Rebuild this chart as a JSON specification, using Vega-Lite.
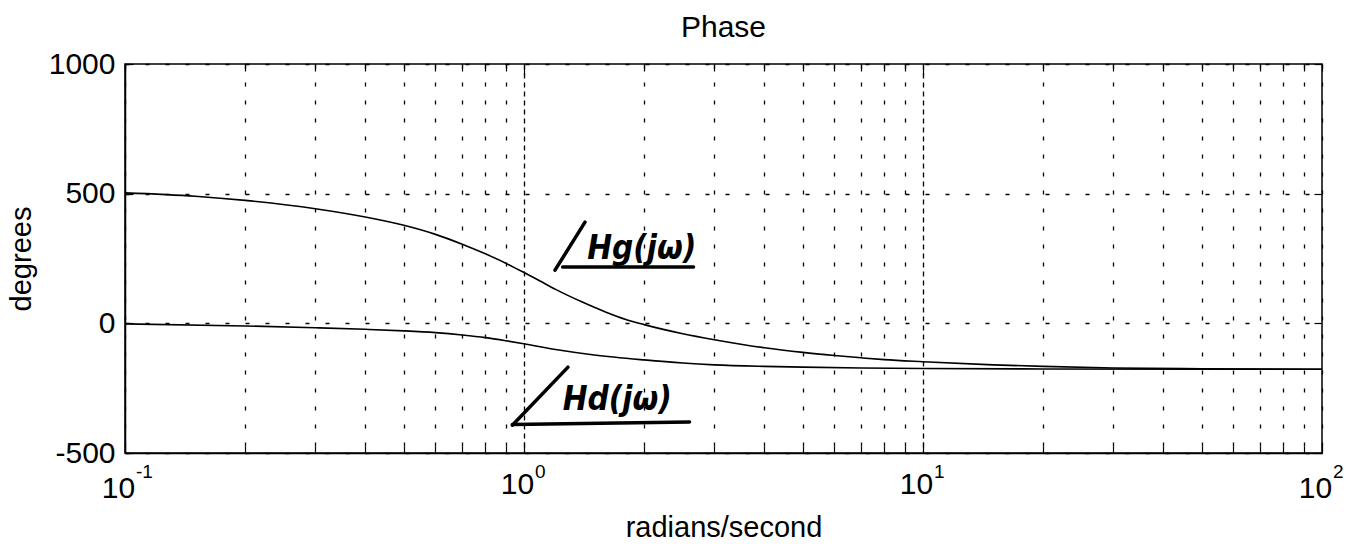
{
  "$schema": "https://vega.github.io/schema/vega-lite/v6.json",
  "width": 1197,
  "height": 389,
  "autosize": {"type": "none"},
  "padding": {"left": 125, "top": 64, "right": 26, "bottom": 91},
  "background": "white",
  "config": {
    "font": "Liberation Sans",
    "view": {"stroke": "black", "strokeWidth": 1.5},
    "axis": {
      "domainColor": "black",
      "domainWidth": 1.5,
      "tickColor": "black",
      "labelColor": "black",
      "titleColor": "black",
      "labelFont": "Liberation Sans",
      "titleFont": "Liberation Sans",
      "labelFontSize": 30,
      "titleFontSize": 29,
      "titleFontWeight": "normal",
      "gridColor": "black",
      "gridOpacity": 1,
      "gridWidth": 1.3
    }
  },
  "title": {
    "text": "Phase",
    "fontSize": 30,
    "fontWeight": "normal",
    "color": "black",
    "font": "Liberation Sans",
    "offset": 6,
    "frame": "group"
  },
  "datasets": {
    "phase": [
      {"w": 0.1, "deg": 503, "curve": "Hg"},
      {"w": 0.15, "deg": 490, "curve": "Hg"},
      {"w": 0.2, "deg": 474, "curve": "Hg"},
      {"w": 0.3, "deg": 442, "curve": "Hg"},
      {"w": 0.4, "deg": 410, "curve": "Hg"},
      {"w": 0.5, "deg": 378, "curve": "Hg"},
      {"w": 0.6, "deg": 343, "curve": "Hg"},
      {"w": 0.7, "deg": 305, "curve": "Hg"},
      {"w": 0.8, "deg": 268, "curve": "Hg"},
      {"w": 0.9, "deg": 232, "curve": "Hg"},
      {"w": 1.0, "deg": 196, "curve": "Hg"},
      {"w": 1.1, "deg": 162, "curve": "Hg"},
      {"w": 1.2, "deg": 131, "curve": "Hg"},
      {"w": 1.4, "deg": 82, "curve": "Hg"},
      {"w": 1.6, "deg": 44, "curve": "Hg"},
      {"w": 1.8, "deg": 15, "curve": "Hg"},
      {"w": 2.0, "deg": -5, "curve": "Hg"},
      {"w": 2.5, "deg": -40, "curve": "Hg"},
      {"w": 3, "deg": -63, "curve": "Hg"},
      {"w": 4, "deg": -94, "curve": "Hg"},
      {"w": 5, "deg": -112, "curve": "Hg"},
      {"w": 6, "deg": -124, "curve": "Hg"},
      {"w": 7, "deg": -133, "curve": "Hg"},
      {"w": 8, "deg": -140, "curve": "Hg"},
      {"w": 10, "deg": -148, "curve": "Hg"},
      {"w": 15, "deg": -160, "curve": "Hg"},
      {"w": 20, "deg": -166, "curve": "Hg"},
      {"w": 30, "deg": -172, "curve": "Hg"},
      {"w": 50, "deg": -175, "curve": "Hg"},
      {"w": 100, "deg": -177, "curve": "Hg"},
      {"w": 0.1, "deg": -2, "curve": "Hd"},
      {"w": 0.2, "deg": -10, "curve": "Hd"},
      {"w": 0.3, "deg": -17, "curve": "Hd"},
      {"w": 0.4, "deg": -23, "curve": "Hd"},
      {"w": 0.5, "deg": -29, "curve": "Hd"},
      {"w": 0.6, "deg": -36, "curve": "Hd"},
      {"w": 0.7, "deg": -45, "curve": "Hd"},
      {"w": 0.8, "deg": -55, "curve": "Hd"},
      {"w": 0.9, "deg": -67, "curve": "Hd"},
      {"w": 1.0, "deg": -79, "curve": "Hd"},
      {"w": 1.2, "deg": -101, "curve": "Hd"},
      {"w": 1.5, "deg": -122, "curve": "Hd"},
      {"w": 2, "deg": -141, "curve": "Hd"},
      {"w": 2.5, "deg": -153, "curve": "Hd"},
      {"w": 3, "deg": -160, "curve": "Hd"},
      {"w": 4, "deg": -166, "curve": "Hd"},
      {"w": 5, "deg": -169, "curve": "Hd"},
      {"w": 7, "deg": -172, "curve": "Hd"},
      {"w": 10, "deg": -174, "curve": "Hd"},
      {"w": 20, "deg": -176, "curve": "Hd"},
      {"w": 50, "deg": -177, "curve": "Hd"},
      {"w": 100, "deg": -177, "curve": "Hd"}
    ],
    "decades": [
      {"w": 0.1, "exp": "-1"},
      {"w": 1, "exp": "0"},
      {"w": 10, "exp": "1"},
      {"w": 100, "exp": "2"}
    ],
    "notes": [
      {"w": 1.44, "deg": 250, "label": "Hg(jω)"},
      {"w": 1.25, "deg": -333, "label": "Hd(jω)"}
    ],
    "strokes": [
      {"w1": 1.196, "d1": 205, "w2": 1.422, "d2": 390},
      {"w1": 1.25, "d1": 217, "w2": 2.66, "d2": 217},
      {"w1": 0.935, "d1": -393, "w2": 1.289, "d2": -169},
      {"w1": 0.935, "d1": -390, "w2": 2.6, "d2": -380}
    ]
  },
  "layer": [
    {
      "data": {"name": "phase"},
      "mark": {"type": "line", "color": "black", "strokeWidth": 1.6, "interpolate": "monotone"},
      "encoding": {
        "x": {
          "field": "w",
          "type": "quantitative",
          "scale": {"type": "log", "domain": [0.1, 100], "nice": false},
          "axis": {
            "orient": "bottom",
            "title": "radians/second",
            "titleFontSize": 29,
            "titlePadding": 10,
            "values": [0.1, 0.2, 0.3, 0.4, 0.5, 0.6, 0.7, 0.8, 0.9, 1, 2, 3, 4, 5, 6, 7, 8, 9, 10, 20, 30, 40, 50, 60, 70, 80, 90, 100],
            "labelExpr": "datum.value == 0.1 || datum.value == 1 || datum.value == 10 || datum.value == 100 ? '10' : ''",
            "labelOffset": -7,
            "labelPadding": 27,
            "labelFlush": false,
            "labelOverlap": false,
            "tickSize": {"condition": {"test": "datum.value == 1 || datum.value == 10", "value": -11}, "value": -7},
            "tickWidth": 1.2,
            "grid": true,
            "gridDash": {"condition": {"test": "datum.value == 1 || datum.value == 10", "value": [5, 4]}, "value": [4, 14]}
          }
        },
        "y": {
          "field": "deg",
          "type": "quantitative",
          "scale": {"domain": [-500, 1000], "nice": false, "zero": false},
          "axis": {
            "orient": "left",
            "title": "degrees",
            "titlePadding": 12,
            "values": [-500, 0, 500, 1000],
            "labelExpr": "datum.value < 0 ? '-' + abs(datum.value) : '' + datum.value",
            "labelPadding": 18,
            "tickSize": -8,
            "tickWidth": 1.2,
            "grid": true,
            "gridDash": [4, 16]
          }
        },
        "detail": {"field": "curve"}
      }
    },
    {
      "data": {"name": "notes"},
      "mark": {"type": "text", "align": "left", "baseline": "alphabetic", "fontSize": 33, "fontStyle": "italic", "fontWeight": "bold", "font": "DejaVu Sans Condensed", "color": "black"},
      "encoding": {
        "x": {"field": "w", "type": "quantitative", "axis": {"orient": "top", "values": [0.1, 0.2, 0.3, 0.4, 0.5, 0.6, 0.7, 0.8, 0.9, 1, 2, 3, 4, 5, 6, 7, 8, 9, 10, 20, 30, 40, 50, 60, 70, 80, 90, 100], "labels": false, "title": null, "domain": false, "grid": false, "tickSize": {"condition": {"test": "datum.value == 1 || datum.value == 10", "value": -11}, "value": -7}, "tickWidth": 1.2}},
        "y": {"field": "deg", "type": "quantitative", "axis": {"orient": "right", "values": [-500, 0, 500, 1000], "labels": false, "title": null, "domain": false, "grid": false, "tickSize": -8, "tickWidth": 1.2}},
        "text": {"field": "label"}
      }
    },
    {
      "data": {"name": "strokes"},
      "mark": {"type": "rule", "color": "black", "strokeWidth": 3.5, "strokeCap": "round"},
      "encoding": {
        "x": {"field": "w1", "type": "quantitative", "axis": null},
        "x2": {"field": "w2"},
        "y": {"field": "d1", "type": "quantitative", "axis": null},
        "y2": {"field": "d2"}
      }
    },
    {
      "data": {"name": "decades"},
      "mark": {"type": "text", "align": "left", "baseline": "top", "fontSize": 19, "font": "Liberation Sans", "color": "black", "dx": 11, "dy": 10, "clip": false},
      "encoding": {
        "x": {"field": "w", "type": "quantitative", "axis": null},
        "y": {"datum": -500, "type": "quantitative", "axis": null},
        "text": {"field": "exp"}
      }
    }
  ],
  "resolve": {"axis": {"x": "independent", "y": "independent"}}
}
